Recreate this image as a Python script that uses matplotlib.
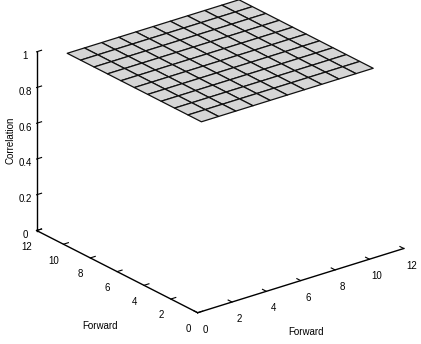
import numpy as np
import matplotlib
matplotlib.use('Agg')
import matplotlib.pyplot as plt

plt.rcParams['font.family'] = ['Liberation Sans', 'DejaVu Sans']

# grid of the flat correlation surface
fwd_a = [1, 2, 3, 4, 5, 6, 7, 8, 9, 10, 11]
fwd_b = [1, 2, 3, 4, 5, 6, 7, 8, 9, 10, 11]
corr = [[1.0] * 11 for _ in range(11)]

xticks = [0, 2, 4, 6, 8, 10, 12]
yticks = [0, 2, 4, 6, 8, 10, 12]
zticks = [0, 0.2, 0.4, 0.6, 0.8, 1]

fig = plt.figure(figsize=(4.21, 3.44), dpi=100)
ax = fig.add_axes([0.012, 0.05, 1.0, 1.0], projection='3d', proj_type='ortho')
ax.view_init(elev=23.5, azim=-128)
ax.set_box_aspect((1, 1, 0.745), zoom=1.18)

X, Y = np.meshgrid(fwd_a, fwd_b)
ax.plot_surface(X, Y, np.array(corr), color='#d6d6d6', edgecolor='#111111',
                linewidth=0.9, shade=False, antialiased=True)

ax.set_xlim(0, 12); ax.set_ylim(0, 12); ax.set_zlim(0, 1)
ax.set_xticks(xticks); ax.set_yticks(yticks); ax.set_zticks(zticks)
ax.set_zticklabels(['0', '0.2', '0.4', '0.6', '0.8', '1'])
ax.set_zlabel('Correlation', fontsize=7, labelpad=-12)
ax.grid(False)
for a in (ax.xaxis, ax.yaxis, ax.zaxis):
    a.set_pane_color((1, 1, 1, 0))
    a.line.set_color('k')
    a.line.set_linewidth(1.0)
    a.set_tick_params(labelsize=7, colors='k')
    a._axinfo['tick']['inward_factor'] = 0.0
    a._axinfo['tick']['outward_factor'] = 0.3
ax.xaxis.set_tick_params(pad=-2)
ax.yaxis.set_tick_params(pad=-2)
ax.zaxis.set_tick_params(pad=-4)

# floor axis titles, placed flat like the original
fig.text(100 / 421, 1 - 326 / 344, 'Forward', fontsize=7, ha='center', va='center')
fig.text(306 / 421, 1 - 332 / 344, 'Forward', fontsize=7, ha='center', va='center')

fig.savefig('out.png', dpi=100)
